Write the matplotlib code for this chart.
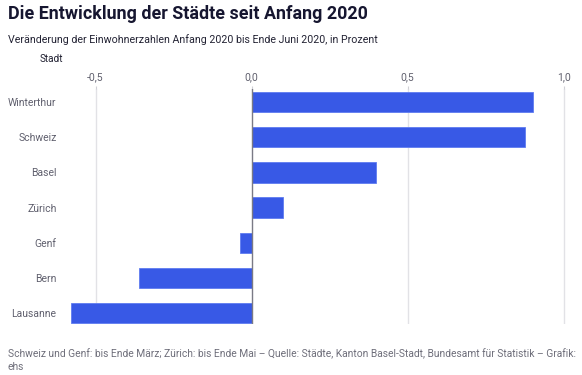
import matplotlib.pyplot as plt

plt.rcParams['font.family'] = ['Roboto', 'DejaVu Sans']

staedte = ['Winterthur', 'Schweiz', 'Basel', 'Zürich', 'Genf', 'Bern', 'Lausanne']
veraenderung = [0.90, 0.875, 0.40, 0.10, -0.037, -0.36, -0.58]
ticks = [-0.5, 0.0, 0.5, 1.0]
tick_labels = ['-0,5', '0,0', '0,5', '1,0']

fig = plt.figure(figsize=(5.82, 3.75), dpi=100)
ax = fig.add_axes([69 / 582, 1 - 324 / 375, (570 - 69) / 582, (324 - 89) / 375])

pos = range(len(staedte))
ax.barh(pos, veraenderung, height=0.58, color='#3859e6', edgecolor='#5f7cf0', linewidth=0.6, zorder=3)

ax.set_xlim(-0.585, 1.02)
ax.set_ylim(6.31, -0.37)
ax.set_yticks(list(pos))
ax.set_yticklabels(staedte)
ax.set_xticks(ticks)
ax.set_xticklabels(tick_labels)
ax.xaxis.tick_top()

for t in ticks:
    if t == 0:
        ax.axvline(t, color='#7a7a85', linewidth=1.0, zorder=4)
    else:
        ax.axvline(t, color='#e2e2e6', linewidth=1.0, zorder=1)

for s in ax.spines.values():
    s.set_visible(False)
ax.tick_params(axis='y', length=0, pad=9, labelsize=7.5, labelcolor='#60606e')
ax.tick_params(axis='x', length=2, color='#d0d0d6', pad=3, labelsize=7.5, labelcolor='#60606e')

fig.text(8 / 582, 1 - 14 / 375, 'Die Entwicklung der Städte seit Anfang 2020',
         fontsize=12.9, fontweight='bold', color='#161630', va='center')
fig.text(8 / 582, 1 - 40 / 375, 'Veränderung der Einwohnerzahlen Anfang 2020 bis Ende Juni 2020, in Prozent',
         fontsize=7.7, color='#222233', va='center')
fig.text(40 / 582, 1 - 59 / 375, 'Stadt', fontsize=7.2, color='#222233', va='center')
fig.text(8 / 582, 1 - 354 / 375,
         'Schweiz und Genf: bis Ende März; Zürich: bis Ende Mai – Quelle: Städte, Kanton Basel-Stadt, Bundesamt für Statistik – Grafik:',
         fontsize=7.4, color='#6e6e7a', va='center')
fig.text(8 / 582, 1 - 367 / 375, 'ehs', fontsize=7.4, color='#6e6e7a', va='center')

fig.savefig('out.png', dpi=100)
